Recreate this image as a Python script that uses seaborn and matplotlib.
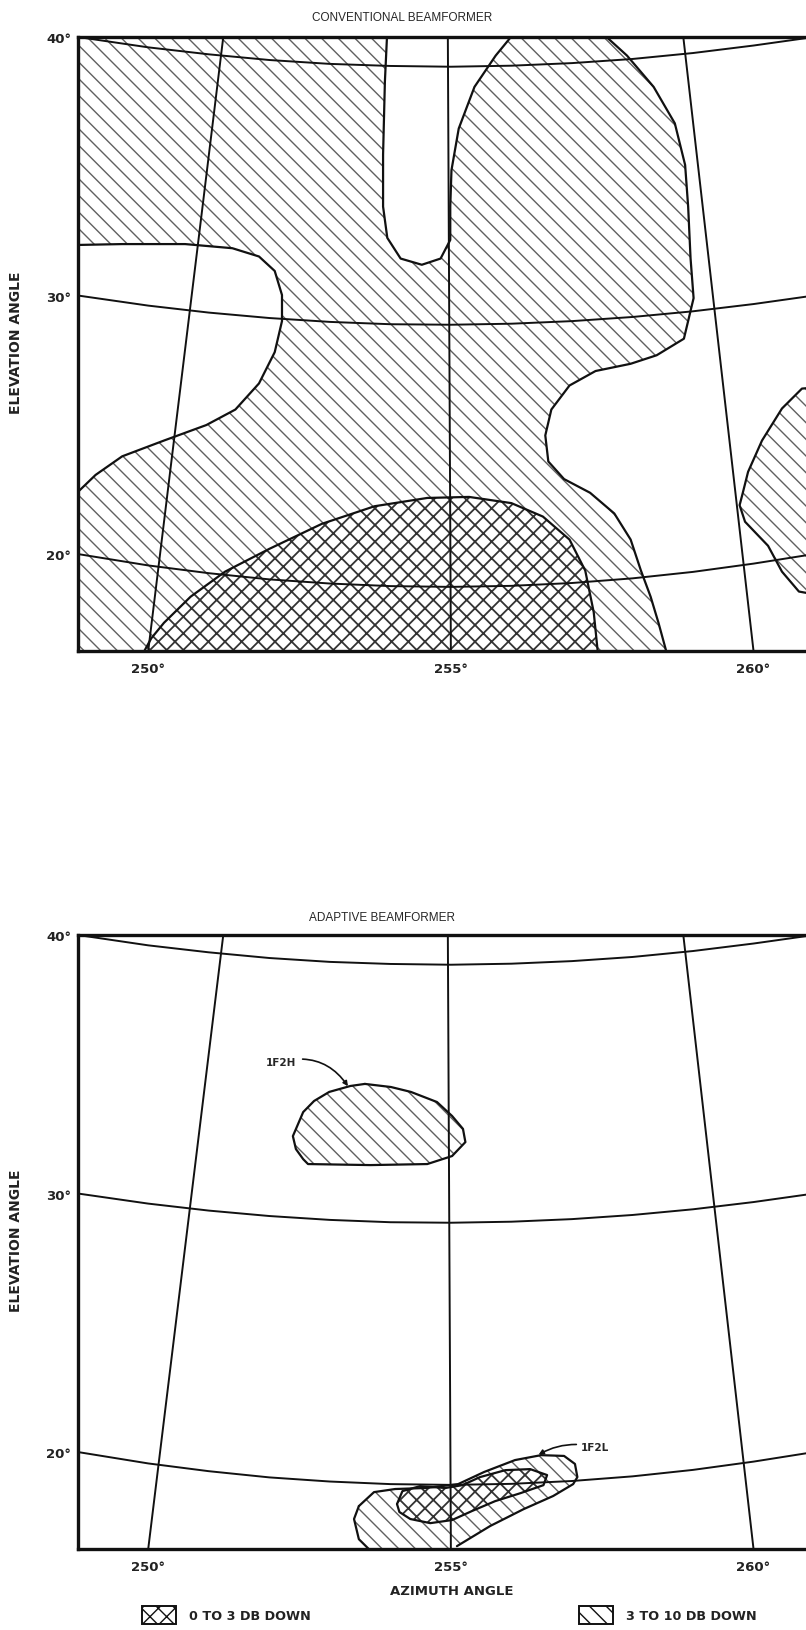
import numpy as np
import matplotlib
matplotlib.use("Agg")
import matplotlib.pyplot as plt
import seaborn as sns
from matplotlib.patches import Patch

# ---------------- data ----------------
az_ticks = [250, 255, 260]
az_labels = ["250°", "255°", "260°"]
el_ticks = [20, 30, 40]
el_labels = ["20°", "30°", "40°"]

# graticule (same map grid in both panels): curved parallels sampled along azimuth
arc_x = [248.84, 250, 251, 252, 253, 254, 255, 256, 257, 258, 259, 260, 261.0]
arc40 = [40.0, 39.60, 39.33, 39.11, 38.96, 38.88, 38.85, 38.89, 38.99, 39.15, 39.38, 39.67, 40.0]
arc30 = [30.0, 29.61, 29.34, 29.13, 28.98, 28.89, 28.87, 28.91, 29.01, 29.17, 29.39, 29.67, 30.0]
arc20 = [20.0, 19.56, 19.26, 19.02, 18.86, 18.76, 18.73, 18.77, 18.88, 19.06, 19.31, 19.63, 20.0]
# meridians: azimuth where they meet the bottom edge -> azimuth at the top edge
mer_bottom = [250, 255, 260]
mer_top = [251.24, 254.95, 258.84]

# Conventional beamformer: unshaded (more than 10 dB down) regions
w1_x = [248.70, 249.57, 250.61, 251.39, 251.83, 252.09, 252.21, 252.21, 252.09, 251.83, 251.44, 250.96, 250.26, 249.57, 249.13, 248.70]
w1_y = [31.95, 31.99, 31.99, 31.83, 31.51, 30.95, 30.02, 29.01, 27.81, 26.60, 25.59, 24.99, 24.39, 23.78, 23.06, 22.09]

w2_x = [253.95, 253.91, 253.88, 253.88, 253.95, 254.17, 254.52, 254.83, 254.99, 254.99, 255.01, 255.13, 255.39, 255.74, 256.09]
w2_y = [40.28, 38.27, 35.45, 33.44, 32.23, 31.43, 31.19, 31.43, 32.15, 33.44, 34.85, 36.46, 38.07, 39.28, 40.28]

w3_x = [257.44, 257.91, 258.35, 258.70, 258.87, 258.92, 258.96, 259.01, 258.85, 258.40, 257.97, 257.39, 256.96,
        256.66, 256.56, 256.61, 256.87, 257.30, 257.70, 257.97, 258.14, 258.30, 258.43, 258.57, 261.4, 261.4]
w3_y = [40.28, 39.28, 38.07, 36.66, 35.05, 33.44, 31.43, 29.90, 28.33, 27.69, 27.36, 27.08, 26.52,
        25.59, 24.59, 23.58, 22.90, 22.37, 21.57, 20.56, 19.36, 18.35, 17.34, 16.14, 16.14, 40.28]

# far right 3-10 dB lobe
f_x = [261.4, 260.80, 260.47, 260.14, 259.91, 259.81, 259.77, 259.86, 260.24, 260.47, 260.75, 261.4]
f_y = [26.52, 26.40, 25.63, 24.39, 23.18, 22.25, 21.89, 21.25, 20.32, 19.32, 18.55, 18.27]

# 0-3 dB region (conventional)
c_x = [249.91, 250.05, 250.26, 250.70, 251.27, 252.00, 252.87, 253.74, 254.61, 255.30, 256.00, 256.52, 256.96, 257.22, 257.36, 257.43]
c_y = [16.14, 16.74, 17.34, 18.35, 19.32, 20.20, 21.17, 21.85, 22.17, 22.21, 21.97, 21.45, 20.56, 19.36, 17.75, 16.14]

# Adaptive beamformer: 1F2H (3-10 dB)
h_x = [253.58, 254.01, 254.34, 254.77, 255.02, 255.20, 255.24, 255.02, 254.61, 253.67, 252.64, 252.56, 252.44, 252.39, 252.56, 252.74, 252.99, 253.34]
h_y = [34.24, 34.12, 33.93, 33.54, 33.00, 32.50, 31.99, 31.45, 31.14, 31.10, 31.14, 31.33, 31.72, 32.22, 33.15, 33.58, 33.93, 34.16]

# 1F2L outer (3-10 dB)
l_x = [253.48, 253.73, 254.08, 254.59, 255.12, 255.55, 256.06, 256.49, 256.87, 257.05, 257.09, 257.02, 256.69, 256.20,
       255.65, 255.10, 255.07, 253.73, 253.48, 253.40]
l_y = [17.91, 18.45, 18.57, 18.61, 18.76, 19.23, 19.69, 19.88, 19.85, 19.54, 19.03, 18.76, 18.30, 17.79,
       17.14, 16.36, 16.05, 16.05, 16.63, 17.41]

# 1F2L inner (0-3 dB)
li_x = [254.11, 254.20, 254.49, 254.91, 255.19, 255.48, 255.90, 256.31, 256.59, 256.53, 256.15, 255.73, 255.35, 255.02, 254.66, 254.33, 254.15]
li_y = [17.99, 18.49, 18.68, 18.61, 18.72, 19.03, 19.30, 19.34, 19.11, 18.72, 18.41, 18.10, 17.72, 17.37, 17.25, 17.41, 17.68]

legend_labels = ["0 TO 3 DB DOWN", "3 TO 10 DB DOWN"]

# ---------------- style ----------------
sns.set_theme(style="white")
plt.rcParams["font.family"] = ["DejaVu Sans"]
plt.rcParams["hatch.linewidth"] = 1.0

HC = "#606060"
XC = "#333333"
LINE = "#111111"
W, H = 806, 1631
YMIN = 16.25
fig = plt.figure(figsize=(W / 100, H / 100), dpi=100)


def px_axes(left, top, right, bottom):
    return fig.add_axes([left / W, 1 - bottom / H, (right - left) / W, (bottom - top) / H])


def style_axes(ax):
    ax.set_xlim(248.84, 260.9)
    ax.set_ylim(YMIN, 40)
    ax.set_xticks(az_ticks, labels=az_labels)
    ax.set_yticks(el_ticks, labels=el_labels)
    ax.tick_params(axis="x", length=0, labelsize=9.5, pad=8)
    ax.tick_params(axis="y", length=0, labelsize=9.5, pad=5)
    for lab in ax.get_xticklabels() + ax.get_yticklabels():
        lab.set_fontweight("bold")
        lab.set_color("#222222")
    for s in ["left", "top", "bottom"]:
        ax.spines[s].set_color(LINE)
        ax.spines[s].set_linewidth(2.4)
        ax.spines[s].set_zorder(10)
    ax.spines["right"].set_visible(False)
    ax.set_facecolor("white")
    ax.set_xlabel("")
    ax.set_ylabel("")


def outline(ax, x, y, closed=True, lw=1.6):
    xs = list(x) + ([x[0]] if closed else [])
    ys = list(y) + ([y[0]] if closed else [])
    sns.lineplot(x=xs, y=ys, sort=False, estimator=None, color=LINE, linewidth=lw, ax=ax, zorder=6)


def graticule(ax):
    for arc in (arc40, arc30, arc20):
        sns.lineplot(x=arc_x, y=arc, sort=False, estimator=None, color=LINE, linewidth=1.4, ax=ax, zorder=7)
    for b, t in zip(mer_bottom, mer_top):
        sns.lineplot(x=[b, t], y=[YMIN, 40], sort=False, estimator=None, color=LINE, linewidth=1.4, ax=ax, zorder=7)


def hatch_fill(ax, x, y, pattern, color, hlw, z):
    with plt.rc_context({"hatch.linewidth": hlw}):
        ax.fill(x, y, facecolor="white", edgecolor=color, hatch=pattern, linewidth=0, zorder=z)


# ---------------- conventional ----------------
ax1 = px_axes(78, 38, 808, 652)
with plt.rc_context({"hatch.linewidth": 1.0}):
    ax1.fill_between([248.0, 262.0], YMIN - 1, 41, facecolor="white", edgecolor=HC, hatch="\\\\",
                     linewidth=0, zorder=1)
for xx, yy in [(w1_x, w1_y), (w2_x, w2_y), (w3_x, w3_y)]:
    ax1.fill(xx, yy, facecolor="white", edgecolor="none", linewidth=0, zorder=2)
hatch_fill(ax1, f_x, f_y, "\\\\", HC, 1.0, 3)
hatch_fill(ax1, c_x, c_y, "xx", XC, 1.3, 4)
outline(ax1, w1_x, w1_y, closed=False)
outline(ax1, w2_x, w2_y, closed=False)
outline(ax1, w3_x[:-2], w3_y[:-2], closed=False)
outline(ax1, f_x, f_y, closed=False)
outline(ax1, c_x, c_y, closed=False)
graticule(ax1)
style_axes(ax1)

# ---------------- adaptive ----------------
ax2 = px_axes(78, 936, 808, 1550)
hatch_fill(ax2, h_x, h_y, "\\\\", HC, 1.0, 3)
hatch_fill(ax2, l_x, l_y, "\\\\", HC, 1.0, 3)
hatch_fill(ax2, li_x, li_y, "xx", XC, 1.3, 4)
outline(ax2, h_x, h_y)
outline(ax2, l_x[:16], l_y[:16], closed=False)
outline(ax2, l_x[17:] + l_x[:1], l_y[17:] + l_y[:1], closed=False)
outline(ax2, li_x, li_y)
graticule(ax2)
style_axes(ax2)

ax2.annotate("1F2H", xy=(253.3, 34.15), xytext=(252.2, 35.1), fontsize=7.5, fontweight="bold",
             ha="center", va="center",
             arrowprops=dict(arrowstyle="-|>", color=LINE, lw=1.2, mutation_scale=7,
                             shrinkA=2, shrinkB=0, connectionstyle="arc3,rad=-0.35"), zorder=9)
ax2.annotate("1F2L", xy=(256.45, 19.9), xytext=(257.15, 20.2), fontsize=7.5, fontweight="bold",
             ha="left", va="center",
             arrowprops=dict(arrowstyle="-|>", color=LINE, lw=1.2, mutation_scale=7,
                             shrinkA=1, shrinkB=0, connectionstyle="arc3,rad=0.2"), zorder=9)

# ---------------- text ----------------
def ftext(x, y, s, **kw):
    fig.text(x / W, 1 - y / H, s, **kw)

title_font = ["Liberation Sans", "DejaVu Sans"]
ftext(402, 18, "CONVENTIONAL BEAMFORMER", ha="center", va="center", fontsize=8.5, family=title_font)
ftext(382, 918, "ADAPTIVE BEAMFORMER", ha="center", va="center", fontsize=8.5, family=title_font)
ftext(16, 343, "ELEVATION ANGLE", ha="center", va="center", rotation=90, fontsize=10, fontweight="bold", color="#222222")
ftext(16, 1241, "ELEVATION ANGLE", ha="center", va="center", rotation=90, fontsize=10, fontweight="bold", color="#222222")
ftext(452, 1592, "AZIMUTH ANGLE", ha="center", va="center", fontsize=9.5, fontweight="bold", color="#222222")

with plt.rc_context({"hatch.linewidth": 1.2}):
    handles = [Patch(facecolor="white", edgecolor=LINE, hatch="xx", linewidth=1.4),
               Patch(facecolor="white", edgecolor=LINE, hatch="\\\\", linewidth=1.4)]
fig.legend(handles, legend_labels, loc="center left", bbox_to_anchor=(130 / W, 1 - 1616 / H), ncol=2,
           frameon=False, handlelength=2.7, handleheight=1.8, handletextpad=1.0, columnspacing=21,
           prop={"size": 9.2, "weight": "bold"}, labelcolor="#222222")

fig.savefig("out.png", dpi=100, facecolor="white")
